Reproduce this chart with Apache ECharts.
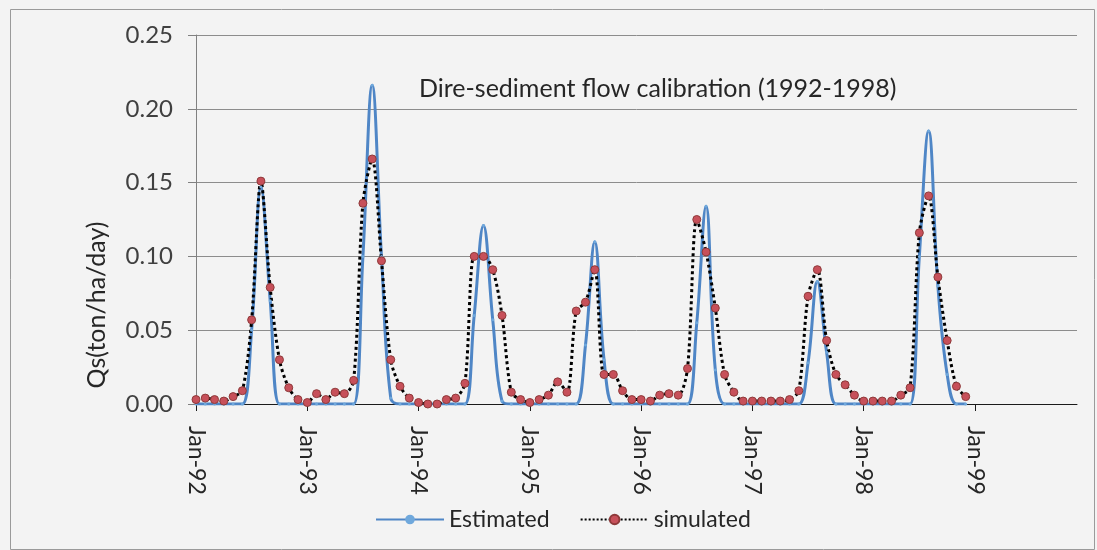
<!DOCTYPE html>
<html>
<head>
<meta charset="utf-8">
<script src="https://cdn.jsdelivr.net/npm/echarts@6/dist/echarts.min.js"></script>
<style>
  html, body { margin: 0; padding: 0; background: #f3f3f3; }
  #chart { width: 1097px; height: 550px; }
</style>
</head>
<body>
<div id="chart"></div>
<script>
// monthly categories Jan-92 .. Dec-99 (axis runs one year past the data)
var monthNames = ['Jan','Feb','Mar','Apr','May','Jun','Jul','Aug','Sep','Oct','Nov','Dec'];
var years = ['92','93','94','95','96','97','98','99'];
var yTicks = [0, 0.05, 0.10, 0.15, 0.20, 0.25];

// Qs (ton/ha/day), Jan-92 .. Dec-98
var estimated = [
  0, 0, 0, 0, 0, 0, 0.050, 0.147, 0.070, 0, 0, 0,
  0, 0, 0, 0, 0, 0, 0.100, 0.216, 0.100, 0.004, 0, 0,
  0, 0, 0, 0, 0, 0, 0.060, 0.121, 0.057, 0.002, 0, 0,
  0, 0, 0, 0, 0, 0, 0.040, 0.110, 0.030, 0, 0, 0,
  0, 0, 0, 0, 0, 0, 0.055, 0.134, 0.023, 0, 0, 0,
  0, 0, 0, 0, 0, 0, 0.028, 0.083, 0.035, 0, 0, 0,
  0, 0, 0, 0, 0, 0, 0.100, 0.185, 0.080, 0.020, 0, 0
];
var simulated = [
  0.003, 0.004, 0.003, 0.002, 0.005, 0.009, 0.057, 0.151, 0.079, 0.030, 0.011, 0.003,
  0.001, 0.007, 0.003, 0.008, 0.007, 0.016, 0.136, 0.166, 0.097, 0.030, 0.012, 0.004,
  0.001, 0.000, 0.000, 0.003, 0.004, 0.014, 0.100, 0.100, 0.091, 0.060, 0.008, 0.003,
  0.001, 0.003, 0.006, 0.015, 0.008, 0.063, 0.069, 0.091, 0.020, 0.020, 0.009, 0.003,
  0.003, 0.002, 0.006, 0.007, 0.006, 0.024, 0.125, 0.103, 0.065, 0.020, 0.008, 0.002,
  0.002, 0.002, 0.002, 0.002, 0.003, 0.009, 0.073, 0.091, 0.043, 0.020, 0.013, 0.006,
  0.002, 0.002, 0.002, 0.002, 0.006, 0.011, 0.116, 0.141, 0.086, 0.043, 0.012, 0.005
];

var categories = [];
years.forEach(function (y) {
  monthNames.forEach(function (m) { categories.push(m + '-' + y); });
});

var font = 'Lato, "Open Sans", sans-serif';
var myChart = echarts.init(document.getElementById('chart'));

var option = {
  backgroundColor: '#f3f3f3',
  animation: false,
  textStyle: { fontFamily: font },
  grid: { left: 196, right: 20, top: 35, bottom: 146, containLabel: false },
  // chart title sits inside the plot
  title: {
    text: 'Dire-sediment flow calibration (1992-1998)',
    left: 414, top: 71,
    textStyle: { fontFamily: font, fontSize: 25, fontWeight: 'normal', color: '#262626' }
  },
  legend: {
    left: 370, top: 503,
    itemWidth: 68, itemHeight: 12, itemGap: 30,
    textStyle: { fontFamily: font, fontSize: 23, color: '#262626' },
    data: ['Estimated', 'simulated']
  },
  graphic: [
    {
      type: 'rect', left: 8, top: 7, silent: true, z: -1,
      shape: { width: 1084, height: 540 },
      style: { fill: 'none', stroke: '#9a9a9a', lineWidth: 1 }
    },
    {
      type: 'text', x: 97, y: 305, rotation: Math.PI / 2,
      style: {
        text: 'Qs(ton/ha/day)', fill: '#262626',
        font: '25px ' + font, align: 'center', verticalAlign: 'middle'
      }
    }
  ],
  xAxis: {
    type: 'category',
    data: categories,
    boundaryGap: false,
    axisLine: { lineStyle: { color: '#1a1a1a', width: 1 } },
    axisTick: { show: true, interval: 11, length: 7, lineStyle: { color: '#1a1a1a' } },
    axisLabel: {
      interval: 11, rotate: -90, margin: 22,
      fontFamily: font, fontSize: 23, color: '#262626'
    },
    splitLine: { show: false }
  },
  yAxis: {
    type: 'value',
    min: yTicks[0], max: yTicks[yTicks.length - 1], interval: 0.05,
    axisLine: { show: true, lineStyle: { color: '#808080' } },
    axisTick: { show: true, length: 8, lineStyle: { color: '#808080' } },
    axisLabel: {
      margin: 23, fontFamily: font, fontSize: 24, color: '#404040',
      formatter: function (v) { return v.toFixed(2); }
    },
    splitLine: { lineStyle: { color: '#8c8c8c', width: 1 } }
  },
  series: [
    {
      name: 'Estimated',
      type: 'line',
      data: estimated,
      smooth: 0.4,
      symbol: 'circle', symbolSize: 3, showSymbol: true, showAllSymbol: true,
      lineStyle: { color: '#4f86c6', width: 3 },
      itemStyle: { color: '#6fa8dc' }
    },
    {
      name: 'simulated',
      type: 'line',
      data: simulated,
      smooth: 0.3,
      symbol: 'circle', symbolSize: 8, showSymbol: true, showAllSymbol: true,
      lineStyle: { color: '#000000', width: 3, type: 'dotted' },
      itemStyle: { color: '#c7505a', borderColor: '#8e3a3a', borderWidth: 1 }
    }
  ]
};

myChart.setOption(option);
</script>
</body>
</html>
